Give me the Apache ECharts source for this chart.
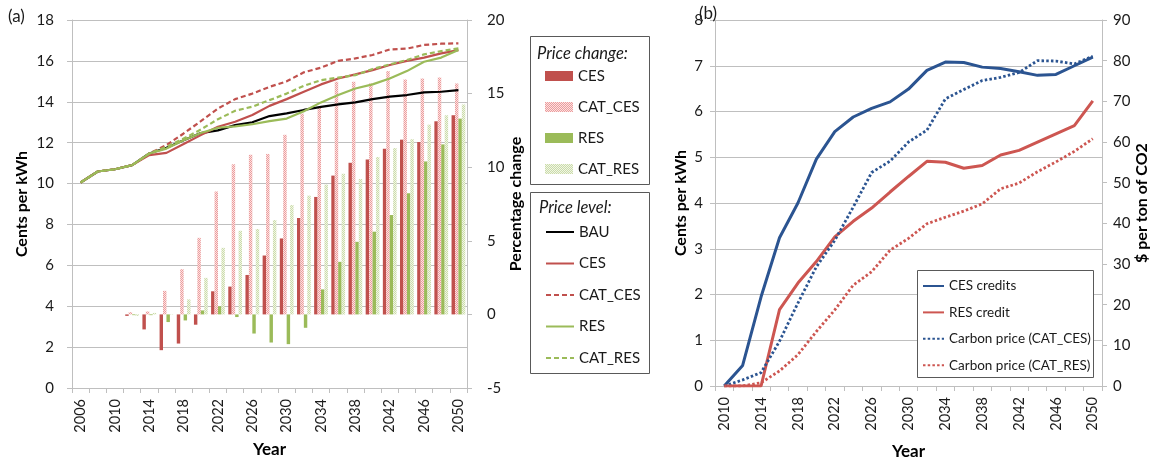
<!DOCTYPE html>
<html>
<head>
<meta charset="utf-8">
<script src="https://cdn.jsdelivr.net/npm/echarts@6/dist/echarts.min.js"></script>
<style>
html,body{margin:0;padding:0;background:#fff;}
#main{width:1153px;height:465px;}
</style>
</head>
<body>
<div id="main"></div>
<script>
// ---------- Panel (a) data ----------
const yearsA = ['2006','2008','2010','2012','2014','2016','2018','2020','2022','2024','2026','2028','2030','2032','2034','2036','2038','2040','2042','2044','2046','2048','2050'];
// Price change (%), right axis
const cesChg    = [null,null,null,-0.1,-1.02,-2.43,-1.98,-0.7,1.57,1.89,2.68,4.0,5.16,6.55,7.98,9.43,10.3,10.53,11.26,11.87,11.71,13.12,13.53];
const catCesChg = [null,null,null,0.15,0.2,1.6,3.07,5.2,8.35,10.2,10.85,10.9,12.2,13.64,14.1,15.8,15.8,15.69,16.53,15.96,16.03,16.1,15.69];
const resChg    = [null,null,null,-0.05,-0.05,-0.52,-0.41,0.27,0.55,-0.18,-1.3,-1.91,-2.02,-0.91,1.7,3.57,4.93,5.62,6.75,8.23,10.39,11.55,13.3];
const catResChg = [null,null,null,-0.1,0.1,0.02,1.02,2.48,4.52,5.68,5.8,6.41,7.43,8.07,8.82,9.55,9.2,10.69,11.3,11.9,12.89,13.53,14.26];
// Price level (cents per kWh), left axis
const bauLevel    = [10.05,10.59,10.70,10.90,11.47,11.75,12.12,12.47,12.60,12.86,13.0,13.3,13.43,13.6,13.75,13.87,13.97,14.13,14.25,14.33,14.46,14.49,14.57];
const cesLevel    = [10.05,10.59,10.70,10.90,11.39,11.5,11.93,12.37,12.78,13.02,13.35,13.8,14.13,14.49,14.85,15.14,15.34,15.55,15.8,16.0,16.16,16.37,16.53];
const catCesLevel = [10.05,10.59,10.70,10.90,11.47,11.88,12.45,13.05,13.67,14.13,14.4,14.73,15.0,15.44,15.67,16.0,16.12,16.29,16.56,16.6,16.78,16.84,16.86];
const resLevel    = [10.05,10.59,10.70,10.90,11.47,11.71,12.12,12.47,12.73,12.8,12.9,13.05,13.18,13.54,13.97,14.33,14.65,14.85,15.14,15.5,15.96,16.16,16.53];
const catResLevel = [10.05,10.59,10.70,10.90,11.47,11.8,12.2,12.64,13.15,13.56,13.76,14.08,14.4,14.78,15.06,15.18,15.3,15.6,15.83,16.04,16.32,16.48,16.61];

// ---------- Panel (b) data ----------
const yearsB = ['2010','2012','2014','2016','2018','2020','2022','2024','2026','2028','2030','2032','2034','2036','2038','2040','2042','2044','2046','2048','2050'];
const cesCredit = [0,0.45,1.95,3.24,4.0,4.96,5.56,5.88,6.07,6.21,6.49,6.9,7.08,7.07,6.97,6.94,6.87,6.79,6.81,7.0,7.19];
const resCredit = [0,0,0,1.67,2.25,2.72,3.26,3.6,3.89,4.24,4.58,4.91,4.89,4.76,4.82,5.05,5.15,5.33,5.51,5.69,6.23];
const carbonCes = [0,1.5,3.3,11,20.4,29.3,35.8,44,52.5,55.3,60,62.9,70.6,72.9,75.1,75.9,77.1,80,79.9,79.2,81.1];
const carbonRes = [0,0,0.8,3.7,7.7,13.4,18.7,24.8,28.1,33.4,36.3,39.9,41.5,43,44.8,48.5,49.9,52.7,55.1,57.7,60.8];

const FONT = 'Lato, "Open Sans", sans-serif';
const RED = '#c0504d', GREEN = '#9bbb59', BLUE = '#2b5491', RED2 = '#cd5651';
const GRID = '#bfbfbf', TXT = '#1a1a1a';

function pattern(c1, c2) {
  const cv = document.createElement('canvas');
  cv.width = 2; cv.height = 2;
  const ctx = cv.getContext('2d');
  ctx.fillStyle = c2; ctx.fillRect(0, 0, 2, 2);
  ctx.fillStyle = c1; ctx.fillRect(0, 0, 1, 1); ctx.fillRect(1, 1, 1, 1);
  return { image: cv, repeat: 'repeat' };
}
const pinkPat = pattern('#ec9c9c', '#fbe2e2');
const greenPat = pattern('#cbdca9', '#f0f5e6');

const labelStyle = { fontFamily: FONT, fontSize: 15, color: TXT };
const nameStyle = { fontFamily: FONT, fontSize: 16, fontWeight: 'bold', color: '#000' };
const axisLine = { show: true, lineStyle: { color: GRID, width: 1 } };
const tick = { show: true, length: 5, lineStyle: { color: GRID } };

function xCat(data, gridIndex, nameGap) {
  return {
    type: 'category', gridIndex, data, boundaryGap: true,
    axisLine, axisTick: { show: true, interval: 0, length: 5, lineStyle: { color: GRID } },
    axisLabel: { interval: 1, rotate: 90, margin: 11, fontFamily: FONT, fontSize: 14.5, color: TXT },
    name: 'Year', nameLocation: 'middle', nameGap, nameTextStyle: Object.assign({}, nameStyle, { fontSize: 17 }),
    splitLine: { show: false }
  };
}
function yVal(gridIndex, min, max, interval, name, nameGap, margin, split, position) {
  return {
    type: 'value', gridIndex, min, max, interval, position,
    axisLine, axisTick: tick,
    axisLabel: Object.assign({ margin }, labelStyle),
    splitLine: { show: split, lineStyle: { color: GRID, width: 1 } },
    name, nameLocation: 'middle', nameGap, nameRotate: 90, nameTextStyle: nameStyle
  };
}

const barBase = { type: 'bar', xAxisIndex: 0, yAxisIndex: 1, barGap: '0%', barCategoryGap: '20%', z: 2 };
function lineA(name, data, color, type) {
  return { type: 'line', name, data, xAxisIndex: 0, yAxisIndex: 0, symbol: 'none', z: 3,
    itemStyle: { color, opacity: 0 }, lineStyle: { color, width: 2.2, type: type || 'solid' } };
}
function lineB(name, data, yIdx, color, type) {
  return { type: 'line', name, data, xAxisIndex: 1, yAxisIndex: yIdx, symbol: 'none', z: 3,
    itemStyle: { color, opacity: 0 }, lineStyle: { color, width: type ? 2.8 : 3, type: type || 'solid' } };
}

const option = {
  animation: false,
  backgroundColor: '#fff',
  textStyle: { fontFamily: FONT },
  grid: [
    { left: 72, top: 20, width: 395, height: 368 },
    { left: 715, top: 20, width: 387, height: 368 }
  ],
  xAxis: [ xCat(yearsA, 0, 53), xCat(yearsB, 1, 57) ],
  yAxis: [
    yVal(0, 0, 18, 2, 'Cents per kWh', 42, 18, true, 'left'),
    yVal(0, -5, 20, 5, 'Percentage change', 40, 20, false, 'right'),
    yVal(1, 0, 8, 1, 'Cents per kWh', 26, 12, true, 'left'),
    yVal(1, 0, 90, 10, '$ per ton of CO2', 32, 11, false, 'right')
  ],
  legend: [
    { left: 545, top: 68, orient: 'vertical', itemWidth: 28, itemHeight: 10, itemGap: 15, padding: 0,
      icon: 'rect', selectedMode: false,
      textStyle: { fontFamily: FONT, fontSize: 15, color: TXT, lineHeight: 16 },
      data: ['CES', 'CAT_CES', 'RES', 'CAT_RES'] },
    { left: 545, top: 224, orient: 'vertical', itemWidth: 28, itemHeight: 10, itemGap: 15.5, padding: 0,
      selectedMode: false, formatter: n => n.trim(),
      textStyle: { fontFamily: FONT, fontSize: 15, color: TXT, lineHeight: 16 },
      data: ['BAU', 'CES ', 'CAT_CES ', 'RES ', 'CAT_RES '] },
    { left: 922, top: 277, orient: 'vertical', itemWidth: 21, itemHeight: 10, itemGap: 8.4, padding: 0,
      selectedMode: false, z: 5,
      textStyle: { fontFamily: FONT, fontSize: 13.5, color: TXT, lineHeight: 18 },
      data: ['CES credits', 'RES credit', 'Carbon price (CAT_CES)', 'Carbon price (CAT_RES)'] }
  ],
  graphic: [
    { type: 'rect', z: 1, shape: { x: 530.5, y: 36.5, width: 119, height: 148 }, style: { fill: '#fff', stroke: '#595959', lineWidth: 1 } },
    { type: 'rect', z: 1, shape: { x: 530.5, y: 192.5, width: 119, height: 181 }, style: { fill: '#fff', stroke: '#595959', lineWidth: 1 } },
    { type: 'rect', z: 4, shape: { x: 917.5, y: 270.5, width: 176, height: 107 }, style: { fill: '#fff', stroke: '#595959', lineWidth: 1 } },
    { type: 'text', z: 5, left: 537, top: 45, style: { text: 'Price change:', fontFamily: FONT, fontSize: 16.5, fontStyle: 'italic', fill: TXT } },
    { type: 'text', z: 5, left: 539, top: 199, style: { text: 'Price level:', fontFamily: FONT, fontSize: 16.5, fontStyle: 'italic', fill: TXT } },
    { type: 'text', z: 5, left: 8, top: 8, style: { text: '(a)', fontFamily: FONT, fontSize: 17, fill: TXT } },
    { type: 'text', z: 5, left: 699, top: 5, style: { text: '(b)', fontFamily: FONT, fontSize: 17, fill: TXT } }
  ],
  series: [
    Object.assign({}, barBase, { name: 'CES', data: cesChg, itemStyle: { color: RED } }),
    Object.assign({}, barBase, { name: 'CAT_CES', data: catCesChg, itemStyle: { color: pinkPat } }),
    Object.assign({}, barBase, { name: 'RES', data: resChg, itemStyle: { color: GREEN } }),
    Object.assign({}, barBase, { name: 'CAT_RES', data: catResChg, itemStyle: { color: greenPat } }),
    lineA('BAU', bauLevel, '#000'),
    lineA('CES ', cesLevel, RED),
    lineA('CAT_CES ', catCesLevel, RED, [5, 3]),
    lineA('RES ', resLevel, GREEN),
    lineA('CAT_RES ', catResLevel, GREEN, [5, 3]),
    lineB('CES credits', cesCredit, 2, BLUE),
    lineB('RES credit', resCredit, 2, RED2),
    lineB('Carbon price (CAT_CES)', carbonCes, 3, BLUE, [2.5, 2.2]),
    lineB('Carbon price (CAT_RES)', carbonRes, 3, RED2, [2.5, 2.2])
  ]
};

const chart = echarts.init(document.getElementById('main'), null, { renderer: 'canvas' });
chart.setOption(option);
</script>
</body>
</html>
